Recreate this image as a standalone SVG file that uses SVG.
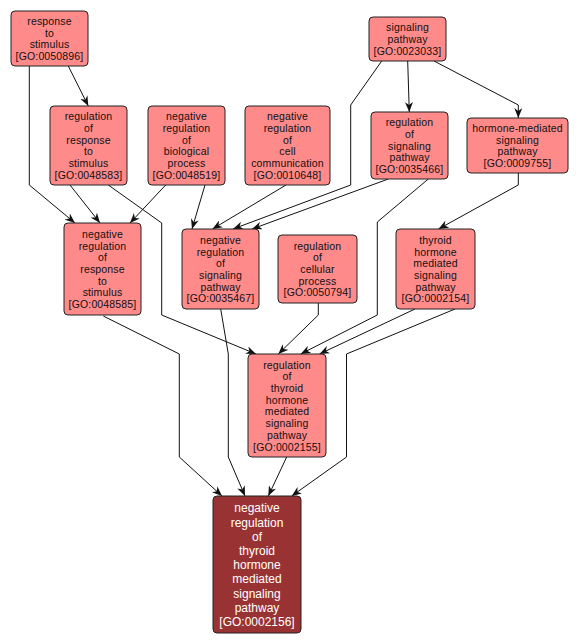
<svg xmlns="http://www.w3.org/2000/svg" width="579" height="644" viewBox="0 0 579 644">
<style>
.n rect{fill:#ff8a8a;stroke:#222;stroke-width:1}
.n text{font-family:"Liberation Sans",Arial,sans-serif;font-size:10.5px;letter-spacing:0.15px;fill:#111;text-anchor:middle}
.d rect{fill:#993333;stroke:#222;stroke-width:1}
.d text{font-family:"Liberation Sans",Arial,sans-serif;font-size:12px;fill:#fff;text-anchor:middle}
.e polyline{fill:none;stroke:#111;stroke-width:1;marker-end:url(#ah)}
</style>
<defs>
<marker id="ah" viewBox="0 0 10 8" refX="10" refY="4" markerWidth="10" markerHeight="8" markerUnits="userSpaceOnUse" orient="auto">
<path d="M0,0 L10,4 L0,8 L3,4 z" fill="#111"/>
</marker>
</defs>
<rect width="579" height="644" fill="#fff"/>
<g id="edges" class="e">
<polyline points="68.3,66 88.3,106"/>
<polyline points="29.3,66 29.3,185 75,223"/>
<polyline points="70,185 100,223"/>
<polyline points="165.7,185 130,223"/>
<polyline points="108.3,185 161.7,223 161.7,315 256,354"/>
<polyline points="205,185 192,229"/>
<polyline points="286,185 212.5,229"/>
<polyline points="381.7,61 350.7,105 350.7,185 233,229"/>
<polyline points="388.3,179 252,229"/>
<polyline points="407.7,61 409.3,112"/>
<polyline points="434,61 518.3,105 518.3,118"/>
<polyline points="518.3,173 518.3,185 438.5,229"/>
<polyline points="428.3,179 377.3,222 377.3,315 300.7,354"/>
<polyline points="318.3,303 318.3,315 278.3,354"/>
<polyline points="415,309 319.5,354"/>
<polyline points="455,309 346.5,354 346.5,457 291.7,496"/>
<polyline points="103.3,316 179.3,354 179.3,457 222,496"/>
<polyline points="220.7,309 228.3,354 228.3,457 245,496"/>
<polyline points="286.7,457 268.3,496"/>
</g>
<g id="GO0050896" class="n"><rect x="11" y="11" width="77" height="55" rx="4"/>
<text x="49.5" y="25"><tspan x="49.5">response</tspan><tspan x="49.5" dy="11.7">to</tspan><tspan x="49.5" dy="11.7">stimulus</tspan><tspan x="49.5" dy="11.7">[GO:0050896]</tspan></text></g>
<g id="GO0048583" class="n"><rect x="50" y="106" width="77" height="79" rx="4"/>
<text x="88.5" y="120.3"><tspan x="88.5">regulation</tspan><tspan x="88.5" dy="11.7">of</tspan><tspan x="88.5" dy="11.7">response</tspan><tspan x="88.5" dy="11.7">to</tspan><tspan x="88.5" dy="11.7">stimulus</tspan><tspan x="88.5" dy="11.7">[GO:0048583]</tspan></text></g>
<g id="GO0048519" class="n"><rect x="148" y="106" width="77" height="79" rx="4"/>
<text x="186.5" y="120.3"><tspan x="186.5">negative</tspan><tspan x="186.5" dy="11.7">regulation</tspan><tspan x="186.5" dy="11.7">of</tspan><tspan x="186.5" dy="11.7">biological</tspan><tspan x="186.5" dy="11.7">process</tspan><tspan x="186.5" dy="11.7">[GO:0048519]</tspan></text></g>
<g id="GO0010648" class="n"><rect x="245" y="106" width="85" height="79" rx="4"/>
<text x="287.5" y="120.3"><tspan x="287.5">negative</tspan><tspan x="287.5" dy="11.7">regulation</tspan><tspan x="287.5" dy="11.7">of</tspan><tspan x="287.5" dy="11.7">cell</tspan><tspan x="287.5" dy="11.7">communication</tspan><tspan x="287.5" dy="11.7">[GO:0010648]</tspan></text></g>
<g id="GO0023033" class="n"><rect x="369" y="17" width="77" height="44" rx="4"/>
<text x="407.5" y="31.3"><tspan x="407.5">signaling</tspan><tspan x="407.5" dy="11.7">pathway</tspan><tspan x="407.5" dy="11.7">[GO:0023033]</tspan></text></g>
<g id="GO0035466" class="n"><rect x="371" y="112" width="77" height="67" rx="4"/>
<text x="409.5" y="126.1"><tspan x="409.5">regulation</tspan><tspan x="409.5" dy="11.7">of</tspan><tspan x="409.5" dy="11.7">signaling</tspan><tspan x="409.5" dy="11.7">pathway</tspan><tspan x="409.5" dy="11.7">[GO:0035466]</tspan></text></g>
<g id="GO0009755" class="n"><rect x="467" y="118" width="101" height="55" rx="4"/>
<text x="517.5" y="132"><tspan x="517.5">hormone-mediated</tspan><tspan x="517.5" dy="11.7">signaling</tspan><tspan x="517.5" dy="11.7">pathway</tspan><tspan x="517.5" dy="11.7">[GO:0009755]</tspan></text></g>
<g id="GO0048585" class="n"><rect x="64" y="223" width="77" height="92" rx="4"/>
<text x="102.5" y="237.9"><tspan x="102.5">negative</tspan><tspan x="102.5" dy="11.7">regulation</tspan><tspan x="102.5" dy="11.7">of</tspan><tspan x="102.5" dy="11.7">response</tspan><tspan x="102.5" dy="11.7">to</tspan><tspan x="102.5" dy="11.7">stimulus</tspan><tspan x="102.5" dy="11.7">[GO:0048585]</tspan></text></g>
<g id="GO0035467" class="n"><rect x="182" y="229" width="77" height="80" rx="4"/>
<text x="220.5" y="243.8"><tspan x="220.5">negative</tspan><tspan x="220.5" dy="11.7">regulation</tspan><tspan x="220.5" dy="11.7">of</tspan><tspan x="220.5" dy="11.7">signaling</tspan><tspan x="220.5" dy="11.7">pathway</tspan><tspan x="220.5" dy="11.7">[GO:0035467]</tspan></text></g>
<g id="GO0050794" class="n"><rect x="278" y="235" width="79" height="68" rx="4"/>
<text x="317.5" y="249.6"><tspan x="317.5">regulation</tspan><tspan x="317.5" dy="11.7">of</tspan><tspan x="317.5" dy="11.7">cellular</tspan><tspan x="317.5" dy="11.7">process</tspan><tspan x="317.5" dy="11.7">[GO:0050794]</tspan></text></g>
<g id="GO0002154" class="n"><rect x="396" y="229" width="79" height="80" rx="4"/>
<text x="435.5" y="243.8"><tspan x="435.5">thyroid</tspan><tspan x="435.5" dy="11.7">hormone</tspan><tspan x="435.5" dy="11.7">mediated</tspan><tspan x="435.5" dy="11.7">signaling</tspan><tspan x="435.5" dy="11.7">pathway</tspan><tspan x="435.5" dy="11.7">[GO:0002154]</tspan></text></g>
<g id="GO0002155" class="n"><rect x="248" y="354" width="78" height="103" rx="4"/>
<text x="287" y="368.6"><tspan x="287">regulation</tspan><tspan x="287" dy="11.7">of</tspan><tspan x="287" dy="11.7">thyroid</tspan><tspan x="287" dy="11.7">hormone</tspan><tspan x="287" dy="11.7">mediated</tspan><tspan x="287" dy="11.7">signaling</tspan><tspan x="287" dy="11.7">pathway</tspan><tspan x="287" dy="11.7">[GO:0002155]</tspan></text></g>
<g id="GO0002156" class="d"><rect x="213" y="496" width="88" height="137" rx="4"/>
<text x="257" y="512.3"><tspan x="257">negative</tspan><tspan x="257" dy="14.2">regulation</tspan><tspan x="257" dy="14.2">of</tspan><tspan x="257" dy="14.2">thyroid</tspan><tspan x="257" dy="14.2">hormone</tspan><tspan x="257" dy="14.2">mediated</tspan><tspan x="257" dy="14.2">signaling</tspan><tspan x="257" dy="14.2">pathway</tspan><tspan x="257" dy="14.2">[GO:0002156]</tspan></text></g>
</svg>
